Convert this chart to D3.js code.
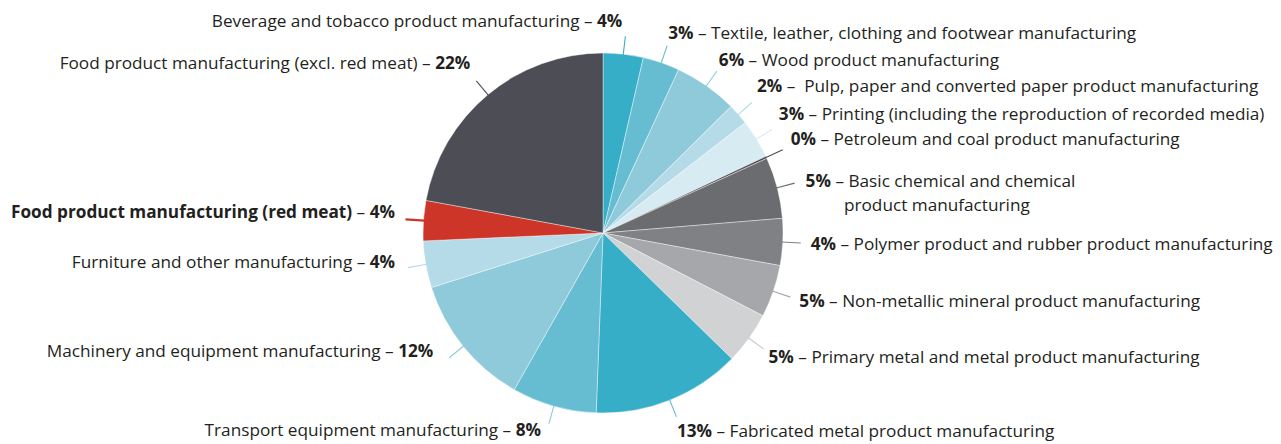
<!DOCTYPE html>
<html><head><meta charset="utf-8">
<script src="https://cdn.jsdelivr.net/npm/d3@7"></script>
<style>
html,body{margin:0;padding:0;background:#fff;}
svg{display:block;}
text{font-family:"Open Sans",Lato,sans-serif;font-size:17.2px;fill:#231f20;}
</style></head>
<body>
<svg id="chart" width="1281" height="444"></svg>
<script>
// ---- data ----
const categories = [
  "Beverage and tobacco product manufacturing",
  "Textile, leather, clothing and footwear manufacturing",
  "Wood product manufacturing",
  "Pulp, paper and converted paper product manufacturing",
  "Printing (including the reproduction of recorded media)",
  "Petroleum and coal product manufacturing",
  "Basic chemical and chemical product manufacturing",
  "Polymer product and rubber product manufacturing",
  "Non-metallic mineral product manufacturing",
  "Primary metal and metal product manufacturing",
  "Fabricated metal product manufacturing",
  "Transport equipment manufacturing",
  "Machinery and equipment manufacturing",
  "Furniture and other manufacturing",
  "Food product manufacturing (red meat)",
  "Food product manufacturing (excl. red meat)"
];
const values = [3.6, 3.3, 5.7, 1.9, 3.5, 0.2, 5.5, 4.2, 4.7, 4.7, 13.3, 7.6, 11.9, 4.2, 3.6, 22.1];
const valueLabels = ["4%","3%","6%","2%","3%","0%","5%","4%","5%","5%","13%","8%","12%","4%","4%","22%"];

// ---- styles / layout (separate from data) ----
const colors = ["#37aec7","#66bdd2","#8fcadb","#b4dbe7","#d7ebf2","#4d4e55","#6b6c70","#808184",
                "#a6a7aa","#d1d2d4","#37aec7","#66bdd2","#8fcadb","#b4dbe7","#cc3527","#4d4e55"];
const leaderColors = ["#37aec7","#66bdd2","#8fcadb","#b4dbe7","#d7ebf2","#4d4e55","#6b6c70","#808184",
                "#a6a7aa","#c6c7c9","#66bdd2","#8fcadb","#8fcadb","#b4dbe7","#cc3527","#4d4e55"];
const labelLayout = [
  {side:"L", dx:-3,  dy:-9.5},
  {side:"R", dx:1,   dy:-7},
  {side:"R", dx:2,   dy:-5.5},
  {side:"R", dx:5,   dy:-11, gap:true},
  {side:"R", dx:7,   dy:-10},
  {side:"R", dx:8,   dy:-5},
  {side:"R", dx:11,  dy:4, lines:["Basic chemical and chemical","product manufacturing"], lineGap:23.6},
  {side:"R", dx:10,  dy:7.5},
  {side:"R", dx:9,   dy:9.5},
  {side:"R", dx:5,   dy:14.5},
  {side:"R", dx:0.5, dy:20.5},
  {side:"L", dx:-8,  dy:13},
  {side:"L", dx:-16, dy:-0.5},
  {side:"L", dx:-13, dy:0},
  {side:"L", dx:-10.5, dy:-1, boldName:true, leaderWidth:2.2},
  {side:"L", dx:-6,  dy:-11.5}
];

const cx = 603, cy = 233, R = 180, Rlead = 198;
const svg = d3.select("#chart");
const g = svg.append("g").attr("transform", `translate(${cx},${cy})`);

const data = categories.map((c,i)=>({name:c, value:values[i], label:valueLabels[i], i}));
const pie = d3.pie().sort(null).value(d=>d.value);
const arcs = pie(data);
const arc = d3.arc().innerRadius(0).outerRadius(R);

g.selectAll("path.slice").data(arcs).join("path")
  .attr("class","slice")
  .attr("d", arc)
  .attr("fill", d=>colors[d.data.i])
  .attr("stroke", "#ffffff")
  .attr("stroke-width", 0.4);

const pt = (a, r) => [r*Math.sin(a), -r*Math.cos(a)];

arcs.forEach(d=>{
  const i = d.data.i, L = labelLayout[i];
  const mid = (d.startAngle + d.endAngle)/2;
  const p0 = pt(mid, R - 1), p1 = pt(mid, Rlead);
  g.append("line")
    .attr("x1", p0[0]).attr("y1", p0[1]).attr("x2", p1[0]).attr("y2", p1[1])
    .attr("stroke", leaderColors[i]).attr("stroke-width", L.leaderWidth || 1.1);

  const tx = p1[0] + L.dx, ty = p1[1] + L.dy;
  const t = g.append("text").attr("x", tx).attr("y", ty);
  if (L.side === "R") {
    t.attr("text-anchor","start");
    t.append("tspan").attr("font-weight","bold").text(d.data.label);
    const nameLines = L.lines || [d.data.name];
    t.append("tspan").text(" \u2013 " + (L.gap ? "\u00a0" : "") + nameLines[0]);
    if (nameLines.length > 1) {
      const pre = g.append("text").attr("x", tx).attr("y", ty).attr("visibility","hidden");
      pre.append("tspan").attr("font-weight","bold").text(d.data.label);
      pre.append("tspan").text(" \u2013 ");
      const w = pre.node().getComputedTextLength();
      pre.remove();
      g.append("text").attr("x", tx + w).attr("y", ty + (L.lineGap || 20)).text(nameLines[1]);
    }
  } else {
    t.attr("text-anchor","end");
    const nm = t.append("tspan").text(d.data.name);
    if (L.boldName) nm.attr("font-weight","bold");
    t.append("tspan").text(" \u2013 ");
    t.append("tspan").attr("font-weight","bold").text(d.data.label);
  }
});
</script>
</body></html>
